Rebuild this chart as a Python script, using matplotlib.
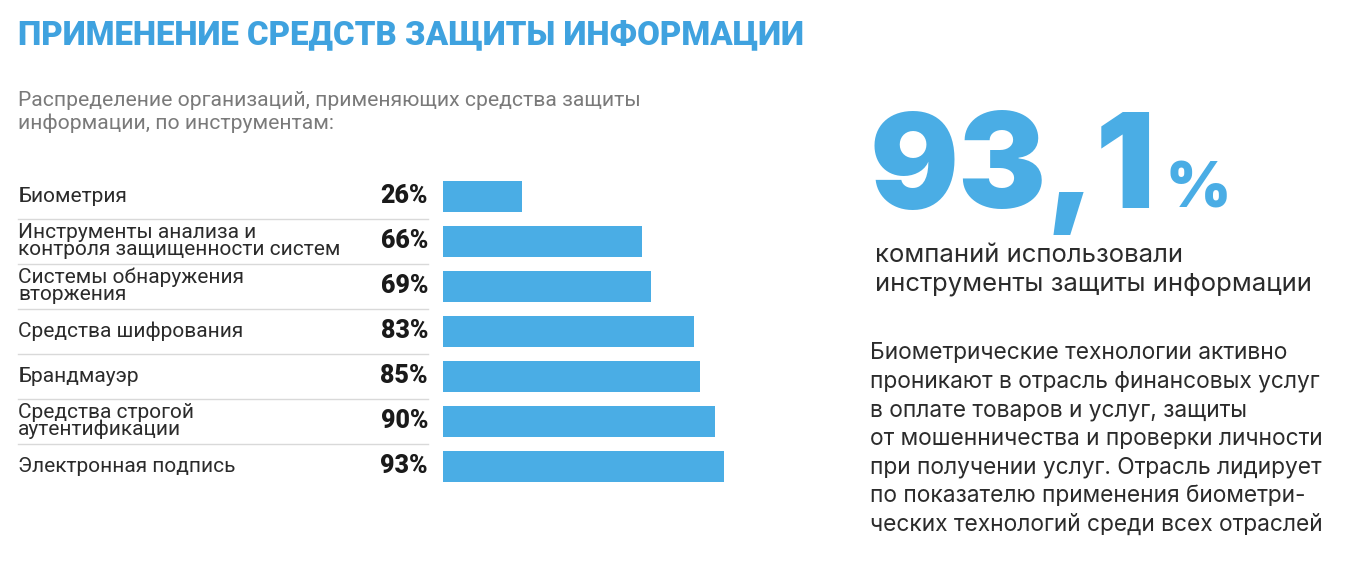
import matplotlib
matplotlib.use("Agg")
import matplotlib.pyplot as plt
from matplotlib.transforms import blended_transform_factory

# --- данные ---
categories = [
    "Биометрия",
    "Инструменты анализа и\nконтроля защищенности систем",
    "Системы обнаружения\nвторжения",
    "Средства шифрования",
    "Брандмауэр",
    "Средства строгой\nаутентификации",
    "Электронная подпись",
]
values = [26, 66, 69, 83, 85, 90, 93]
value_labels = ["26%", "66%", "69%", "83%", "85%", "90%", "93%"]

title = "ПРИМЕНЕНИЕ СРЕДСТВ ЗАЩИТЫ ИНФОРМАЦИИ"
subtitle = "Распределение организаций, применяющих средства защиты\nинформации, по инструментам:"
big_number = "93,1"
big_caption = "компаний использовали\nинструменты защиты информации"
paragraph = [
    "Биометрические технологии активно",
    "проникают в отрасль финансовых услуг",
    "в оплате товаров и услуг, защиты",
    "от мошенничества и проверки личности",
    "при получении услуг. Отрасль лидирует",
    "по показателю применения биометри-",
    "ческих технологий среди всех отраслей",
]

BLUE = "#4aade5"
TITLE_BLUE = "#3fa2df"
DARK = "#2b2b2b"
GREY = "#7a7a7a"

W, H = 1348, 562
fig = plt.figure(figsize=(W / 100, H / 100), dpi=100)
fig.patch.set_facecolor("white")

# оси под бары: x от 443 до 743 px, строки по 45 px
row_h = 45
top_px = 196 - row_h / 2
n = len(values)
ax = fig.add_axes([443 / W, 1 - (top_px + n * row_h) / H, 300 / W, n * row_h / H])
ax.barh(range(n), values, height=31 / 45, color=BLUE, left=0)
ax.set_xlim(0, 300 / 3.02)
ax.set_ylim(n - 0.5, -0.5)
ax.axis("off")

tr = blended_transform_factory(fig.transFigure, ax.transData)
for i, (cat, lab) in enumerate(zip(categories, value_labels)):
    ax.text(18 / W, i, cat, transform=tr, ha="left", va="center",
            fontsize=15, family="Roboto", color=DARK, linespacing=0.9)
    ax.text(428 / W, i, lab, transform=tr, ha="right", va="center",
            fontsize=18, family="Roboto", fontweight="black", color="#1a1a1a")
for i in range(n - 1):
    ax.plot([18 / W, 428 / W], [i + 0.5, i + 0.5], transform=tr,
            color="#d9d9d9", lw=1, clip_on=False)

# заголовок и подзаголовок
fig.text(18 / W, 1 - 35 / H, title, ha="left", va="center", fontsize=23.8,
         family="Roboto", fontweight="black", color=TITLE_BLUE)
fig.text(18 / W, 1 - 112 / H, subtitle, ha="left", va="center", fontsize=15.2,
         family="Roboto", color=GREY, linespacing=1.2)

# большое число справа
fig.text(870 / W, 1 - 208 / H, big_number, ha="left", va="baseline", fontsize=95,
         family="Inter", fontweight="black", color=BLUE)
fig.text(1166 / W, 1 - 208 / H, "%", ha="left", va="baseline", fontsize=45,
         family="Inter", fontweight="black", color=BLUE)
fig.text(875 / W, 1 - 270 / H, big_caption, ha="left", va="center", fontsize=18.5,
         family="Inter", color=DARK, linespacing=1.35)

for k, line in enumerate(paragraph):
    fig.text(870 / W, 1 - (353 + k * 28.7) / H, line, ha="left", va="center",
             fontsize=16.4, family="Inter", color=DARK)

fig.savefig("out.png", dpi=100)
